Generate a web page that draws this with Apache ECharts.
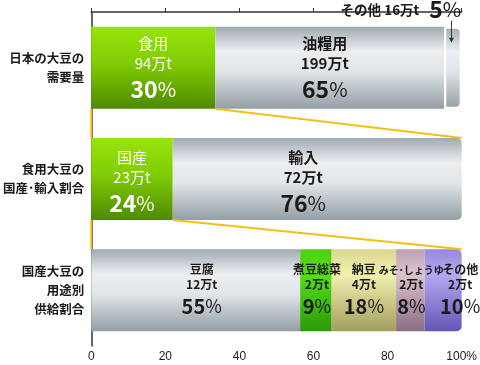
<!DOCTYPE html>
<html><head><meta charset="utf-8">
<script src="https://cdn.jsdelivr.net/npm/echarts@6/dist/echarts.min.js"></script>
<style>html,body{margin:0;padding:0;background:#fff}#c{width:480px;height:365px}</style>
</head><body><div id="c"></div>
<script>
// ---- data ----
const categories = ['日本の大豆の\n需要量', '食用大豆の\n国産･輸入割合', '国産大豆の\n用途別\n供給割合'];
const demandNames = ['食用', '油糧用', 'その他'];
const demandAmounts = ['94万t', '199万t', '16万t'];
const demandPercents = [30, 65, 5];
const demandBarLengths = [33.5, 61.8, 4.7];
const foodNames = ['国産', '輸入'];
const foodAmounts = ['23万t', '72万t'];
const foodPercents = [24, 76];
const foodBarLengths = [22, 78];
const domesticNames = ['豆腐', '煮豆総菜', '納豆', 'みそ･しょうゆ', 'その他'];
const domesticAmounts = ['12万t', '2万t', '4万t', '2万t', '2万t'];
const domesticPercents = [55, 9, 18, 8, 10];
const domesticBarLengths = [56.4, 8.5, 17.4, 7.7, 10.0];
const xTicks = [0, 20, 40, 60, 80, 100];

// ---- styles ----
const FONT = '"Noto Sans CJK JP", "Noto Sans", sans-serif';
const grad = (stops) => new echarts.graphic.LinearGradient(0, 0, 0, 1, stops.map(([o, c]) => ({offset: o, color: c})));
const GREEN = grad([[0, '#97e40c'], [0.45, '#80cc04'], [1, '#4e8a00']]);
const GRAY = grad([[0, '#a0aab0'], [0.3, '#eceff1'], [0.55, '#e0e5e7'], [1, '#939ea5']]);
const BGREEN = grad([[0, '#4ccf10'], [0.3, '#55e016'], [1, '#2a9a08']]);
const YELLOW = grad([[0, '#d9d78e'], [0.3, '#f3f1b0'], [1, '#a29e5e']]);
const PINK = grad([[0, '#bfa0b2'], [0.3, '#dcc3cf'], [1, '#8a6c84']]);
const PURPLE = grad([[0, '#9588dc'], [0.3, '#b4aaf2'], [1, '#6455b4']]);
const DARK = '#1a1a1a';
const YEL = '#f0c014';

const GRID_TOP = 12, GRID_BOTTOM_Y = 346, BAR_W = 82;
const band = (GRID_BOTTOM_Y - GRID_TOP) / categories.length;
const h = (BAR_W / 2) / band;

function bigRich(color, w) {
  return {
    name: {fontFamily: FONT, fontSize: 15, lineHeight: 16, color, fontWeight: w},
    amt: {fontFamily: FONT, fontSize: 15, lineHeight: 24, color, fontWeight: w},
    n: {fontFamily: FONT, fontSize: 23, lineHeight: 28, color, fontWeight: 'bold'},
    p: {fontFamily: FONT, fontSize: 20, lineHeight: 28, color}
  };
}
function smallRich(nameSize) {
  return {
    name: {fontFamily: FONT, fontSize: nameSize, lineHeight: 15, color: DARK, fontWeight: 'bold'},
    amt: {fontFamily: FONT, fontSize: 12, lineHeight: 15, color: DARK, fontWeight: 'bold'},
    n: {fontFamily: FONT, fontSize: 20, lineHeight: 28, color: DARK, fontWeight: 'bold'},
    p: {fontFamily: FONT, fontSize: 18, lineHeight: 28, color: DARK}
  };
}
const fmt = (name, amt, pct) => `{name|${name}}\n{amt|${amt}}\n{n|${pct}}{p|%}`;

const rows = [
  {names: demandNames, amounts: demandAmounts, pcts: demandPercents, lens: demandBarLengths,
   fills: [GREEN, GRAY, GRAY],
   rich: [bigRich('#fff', 'normal'), bigRich(DARK, 'bold'), null],
   offsets: [[0, 2], [-5, 2], null]},
  {names: foodNames, amounts: foodAmounts, pcts: foodPercents, lens: foodBarLengths,
   fills: [GREEN, GRAY],
   rich: [bigRich('#fff', 'normal'), bigRich(DARK, 'bold')],
   offsets: [[0, 4], [-14, 4]]},
  {names: domesticNames, amounts: domesticAmounts, pcts: domesticPercents, lens: domesticBarLengths,
   fills: [GRAY, BGREEN, YELLOW, PINK, PURPLE],
   rich: [smallRich(12), smallRich(12), smallRich(12), smallRich(10), smallRich(12)],
   offsets: [[6, 1], [1, 1], [0, 1], [1, 1], [17, 1]]}
];

const series = [];
rows.forEach((row, r) => {
  row.lens.forEach((len, j) => {
    const last = j === row.lens.length - 1;
    const data = categories.map(() => '-');
    const item = {
      value: len,
      itemStyle: {color: row.fills[j], borderRadius: last ? [0, 5, 5, 0] : 0}
    };
    if (r === 0 && last) {
      item.itemStyle.borderColor = '#fff';
      item.itemStyle.borderWidth = 2;
      item.label = {
        show: true, position: 'top', offset: [-52, 0],
        formatter: `{t|${row.names[j]} ${row.amounts[j]}}   {n|${row.pcts[j]}}{p|%}`,
        rich: {
          t: {fontFamily: FONT, fontSize: 13.5, fontWeight: 'bold', color: DARK, lineHeight: 24},
          n: {fontFamily: FONT, fontSize: 23, fontWeight: 'bold', color: DARK, lineHeight: 24},
          p: {fontFamily: FONT, fontSize: 20, color: DARK, lineHeight: 24}
        }
      };
    } else {
      item.label = {
        show: true, position: 'inside', offset: row.offsets[j],
        formatter: fmt(row.names[j], row.amounts[j], row.pcts[j]),
        rich: row.rich[j]
      };
    }
    data[r] = item;
    const s = {
      type: 'bar', stack: 'total', barWidth: BAR_W, yAxisIndex: 0, data,
      silent: true
    };
    if (r === 0 && last) {
      const start = row.lens.slice(0, j).reduce((a, b) => a + b, 0);
      s.markPoint = {
        silent: true,
        symbol: 'path://M4,0 L6,0 L6,34 L10,34 L5,44 L0,34 L4,34 Z',
        symbolSize: [5, 22],
        symbolOffset: [-1.5, -36],
        itemStyle: {color: '#333'},
        label: {show: false},
        data: [{coord: [start + len / 2, 0]}]
      };
    }
    series.push(s);
  });
});

// yellow connector lines (from green segment bottom-right to next bar top-right)
const connectors = [];
for (let r = 0; r < 2; r++) {
  const g = rows[r].lens[0];
  connectors.push([g, r + 0.5 + h], [100, r + 1.5 - h], '-', [0, r + 0.5 + h], [0, r + 1.5 - h], '-');
}
series.push({
  type: 'line', yAxisIndex: 1, data: connectors, symbol: 'none', clip: false, silent: true,
  connectNulls: false, lineStyle: {color: YEL, width: 2}, z: 5
});

const chart = echarts.init(document.getElementById('c'), null, {renderer: 'canvas'});
chart.setOption({
  animation: false,
  backgroundColor: '#fff',
  grid: {left: 87.5, right: 17.5, top: GRID_TOP, bottom: 365 - GRID_BOTTOM_Y, containLabel: false},
  xAxis: {
    type: 'value', min: xTicks[0], max: xTicks[xTicks.length - 1], interval: xTicks[1] - xTicks[0],
    axisLine: {show: true, lineStyle: {color: '#333', width: 1.5}},
    axisTick: {show: true, inside: true, length: 4, lineStyle: {color: '#333'}},
    splitLine: {show: false},
    axisLabel: {
      color: DARK, fontSize: 12, margin: 5, fontFamily: '"Liberation Sans", "Noto Sans", sans-serif',
      formatter: v => v === 100 ? '100%' : String(v)
    }
  },
  yAxis: [{
    type: 'category', inverse: true,
    data: categories.map((c, i) => ({value: c, textStyle: {padding: [[0, 0, 7, 0], [15, 0, 0, 0], [20, 0, 0, 0]][i]}})),
    axisLine: {show: true, lineStyle: {color: '#333', width: 1.5}},
    axisTick: {show: false},
    axisLabel: {color: DARK, fontSize: 12.5, fontWeight: 'bold', lineHeight: 19, margin: 7, align: 'right', fontFamily: FONT}
  }, {
    type: 'value', min: 0, max: categories.length, inverse: true, show: false
  }],
  series
});
</script></body></html>
